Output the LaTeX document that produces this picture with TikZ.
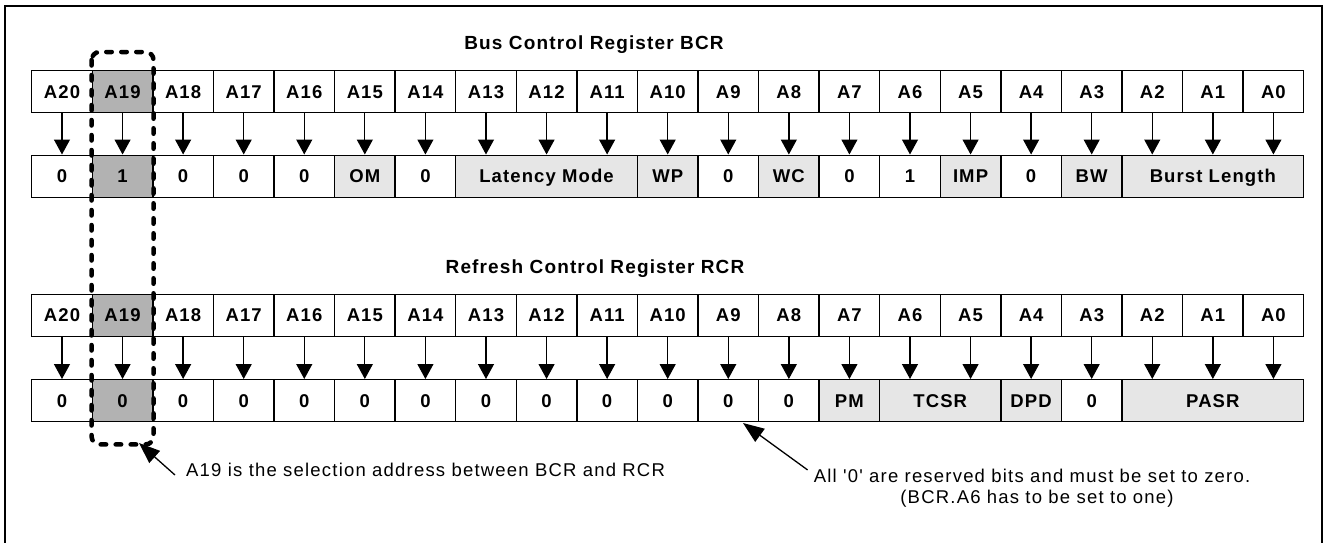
\documentclass[tikz,border=0pt]{standalone}
\usepackage{fontspec}
\setmainfont{Liberation Sans}
\newfontfamily\cellfont[LetterSpace=6]{Liberation Sans}
\newfontfamily\titlefont[LetterSpace=6]{Liberation Sans}
\newfontfamily\annofont[LetterSpace=6.5]{Liberation Sans}
\usetikzlibrary{arrows.meta}
\definecolor{selgray}{RGB}{178,178,178}
\definecolor{fieldgray}{RGB}{230,230,230}
\begin{document}
\begin{tikzpicture}[x=1pt,y=-1pt,
  cell/.style={draw, line width=1.4pt, minimum height=42pt, inner sep=0pt,
    anchor=north west, text height=13pt, text depth=0pt,
    font=\cellfont\bfseries\fontsize{18.5}{20}\selectfont},
  regtitle/.style={anchor=base, inner sep=0pt,
    font=\titlefont\bfseries\fontsize{19}{22}\selectfont},
  anno/.style={inner sep=0pt, font=\annofont\fontsize{18.5}{21}\selectfont},
  bitarrow/.style={line width=1.3pt, -{Triangle[length=15pt,width=16pt]}},
  annoarrow/.style={line width=1.3pt, -{Triangle[length=21pt,width=16pt]}},
  seldash/.style={line width=4.5pt, dash pattern=on 5.5pt off 9.5pt, line cap=round, rounded corners=8pt}
]
\useasboundingbox (0,0) rectangle (1329,542);
\def\cw{60.571}
% outer frame (open at bottom)
\draw[line width=1.3pt] (5,560) -- (5,6) -- (1322,6) -- (1322,560);

% titles
\node[regtitle] (tbcr) at (594,49.5) {Bus Control Register BCR};
\node[regtitle] (trcr) at (595,273.5) {Refresh Control Register RCR};

% address rows
\foreach \i in {0,...,20} {
  \pgfmathtruncatemacro\bit{20-\i}
  \ifnum\i=1 \def\fc{selgray}\else\def\fc{white}\fi
  \node[cell, fill=\fc, minimum width=\cw pt] (ba\i) at ({31+\i*\cw},70) {A\bit};
  \node[cell, fill=\fc, minimum width=\cw pt] (ra\i) at ({31+\i*\cw},293.5) {A\bit};
}

% BCR values
\foreach \i/\n/\t/\fc in {0/1/0/white, 1/1/1/selgray, 2/1/0/white, 3/1/0/white,
  4/1/0/white, 5/1/OM/fieldgray, 6/1/0/white, 7/3/Latency Mode/fieldgray,
  10/1/WP/fieldgray, 11/1/0/white, 12/1/WC/fieldgray, 13/1/0/white, 14/1/1/white,
  15/1/IMP/fieldgray, 16/1/0/white, 17/1/BW/fieldgray, 18/3/Burst Length/fieldgray} {
  \node[cell, fill=\fc, minimum width={\n*\cw pt}] (bv\i) at ({31+\i*\cw},154.5) {\t};
}

% RCR values
\foreach \i/\n/\t/\fc in {0/1/0/white, 1/1/0/selgray, 2/1/0/white, 3/1/0/white,
  4/1/0/white, 5/1/0/white, 6/1/0/white, 7/1/0/white, 8/1/0/white, 9/1/0/white,
  10/1/0/white, 11/1/0/white, 12/1/0/white, 13/1/PM/fieldgray, 14/2/TCSR/fieldgray,
  16/1/DPD/fieldgray, 17/1/0/white, 18/3/PASR/fieldgray} {
  \node[cell, fill=\fc, minimum width={\n*\cw pt}] (rv\i) at ({31+\i*\cw},379) {\t};
}

% bit arrows
\foreach \i in {0,...,20} {
  \draw[bitarrow] (ba\i.south) -- (ba\i.south |- bv0.north);
  \draw[bitarrow] (ra\i.south) -- (ra\i.south |- rv0.north);
}

% selection outline around A19
\draw[seldash] ([yshift=18pt]ba1.north west) rectangle ([yshift=-22pt]rv1.south east);

% annotations
\node[anno, anchor=base west] (n1) at (186,476) {A19 is the selection address between BCR and RCR};
\coordinate (tip1) at (139,443);
\draw[annoarrow] ([shift={(-11,-1)}]n1.base west) -- (tip1);

\node[anno, anchor=base] (n2) at (1032,482.5) {All '0' are reserved bits and must be set to zero.};
\node[anno, anchor=base] (n3) at (1037,503.5) {(BCR.A6 has to be set to one)};
\coordinate (tip2) at (743,423);
\draw[annoarrow] ([shift={(-6,1)}]n2.north west) -- (tip2);
\end{tikzpicture}
\end{document}
